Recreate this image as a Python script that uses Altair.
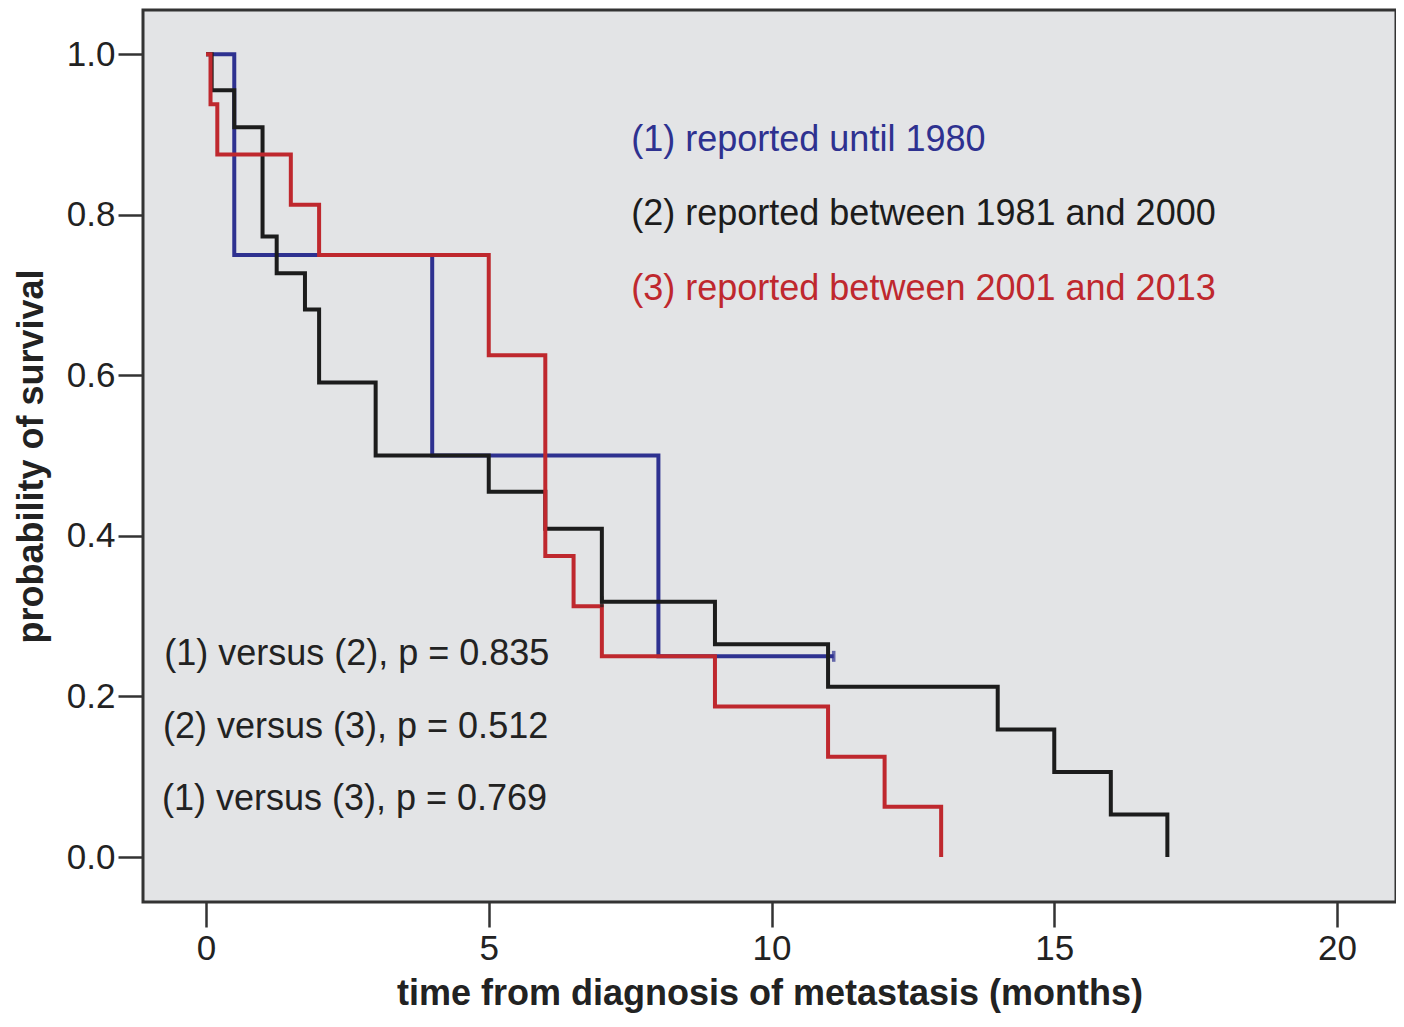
import altair as alt
import pandas as pd

# (1) reported until 1980
t1 = [0.0, 0.5, 4.0, 8.0, 11.1]
s1 = [1.0, 0.75, 0.5, 0.25, 0.25]
# (2) reported between 1981 and 2000
t2 = [0.0, 0.1, 0.5, 1.0, 1.25, 1.75, 2.0, 3.0, 5.0, 6.0, 7.0, 9.0, 11.0, 14.0, 15.0, 16.0, 17.0]
s2 = [1.0, 0.955, 0.909, 0.773, 0.727, 0.682, 0.591, 0.5, 0.455, 0.409, 0.318, 0.265, 0.212, 0.159, 0.106, 0.053, 0.0]
# (3) reported between 2001 and 2013
t3 = [0.0, 0.08, 0.2, 1.5, 2.0, 5.0, 6.0, 6.5, 7.0, 9.0, 11.0, 12.0, 13.0]
s3 = [1.0, 0.9375, 0.875, 0.8125, 0.75, 0.625, 0.375, 0.3125, 0.25, 0.1875, 0.125, 0.0625, 0.0]

# censored observations
censor_t = [11.1, 7.0]
censor_s = [0.25, 0.318]
censor_c = ["#2e3190", "#1c1c1c"]

series_colors = ["#2e3190", "#1c1c1c", "#bf282e"]

legend_labels = ["(1) reported until 1980", "(2) reported between 1981 and 2000", "(3) reported between 2001 and 2013"]
legend_x = [7.52, 7.52, 7.52]
legend_y = [0.880, 0.787, 0.694]

pval_labels = ["(1) versus (2), p = 0.835", "(2) versus (3), p = 0.512", "(1) versus (3), p = 0.769"]
pval_x = [-0.74, -0.76, -0.78]
pval_y = [0.239, 0.148, 0.058]

x_ticks = [0, 5, 10, 15, 20]
y_ticks = [0.0, 0.2, 0.4, 0.6, 0.8, 1.0]

FONT = "Liberation Sans"
xscale = alt.Scale(domain=[-1.114, 21.043], nice=False, zero=False)
yscale = alt.Scale(domain=[-0.056, 1.055], nice=False, zero=False)

xenc = alt.X("t:Q", scale=xscale,
             axis=alt.Axis(values=x_ticks, format="d", title="time from diagnosis of metastasis (months)",
                           labelPadding=4, titleY=102, titleBaseline="alphabetic"))
yenc = alt.Y("s:Q", scale=yscale,
             axis=alt.Axis(values=y_ticks, format=".1f", title="probability of survival",
                           labelPadding=3, titleX=-112, titleY=446, titleAngle=270,
                           titleBaseline="middle"))


def km(ts, ss, color):
    df = pd.DataFrame({"t": ts, "s": ss})
    return alt.Chart(df).mark_line(interpolate="step-after", strokeWidth=4, color=color).encode(x=xenc, y=yenc)


lines = [km(t1, s1, series_colors[0]), km(t2, s2, series_colors[1]), km(t3, s3, series_colors[2])]

cdf = pd.DataFrame({"t": censor_t, "s": censor_s, "c": censor_c})
censors = alt.Chart(cdf).mark_point(shape="M0,-1L0,1", size=120, strokeWidth=3.5, filled=False).encode(
    x=xenc, y=yenc, color=alt.Color("c:N", scale=None))

ldf = pd.DataFrame({"t": legend_x, "s": legend_y, "label": legend_labels, "c": series_colors})
legend_text = alt.Chart(ldf).mark_text(align="left", baseline="alphabetic", font=FONT, fontSize=36).encode(
    x=xenc, y=yenc, text="label:N", color=alt.Color("c:N", scale=None))

pdf = pd.DataFrame({"t": pval_x, "s": pval_y, "label": pval_labels})
pval_text = alt.Chart(pdf).mark_text(align="left", baseline="alphabetic", font=FONT, fontSize=36,
                                     color="#222222").encode(x=xenc, y=yenc, text="label:N")

chart = alt.layer(*lines, censors, legend_text, pval_text).properties(
    width=1253, height=892,
    autosize=alt.AutoSizeParams(type="none"),
    padding={"left": 135, "top": 2, "right": 0, "bottom": 113},
    background="white",
).configure_view(
    fill="#e3e4e6", stroke="#333333", strokeWidth=3
).configure_axis(
    grid=False, domain=False, tickColor="#333333", tickWidth=2.5, tickSize=25,
    labelFont=FONT, labelFontSize=35, labelColor="#222222",
    titleFont=FONT, titleFontSize=36, titleFontWeight="bold", titleColor="#222222",
)

chart.save("out.html", embed_options={"renderer": "svg", "actions": False})
